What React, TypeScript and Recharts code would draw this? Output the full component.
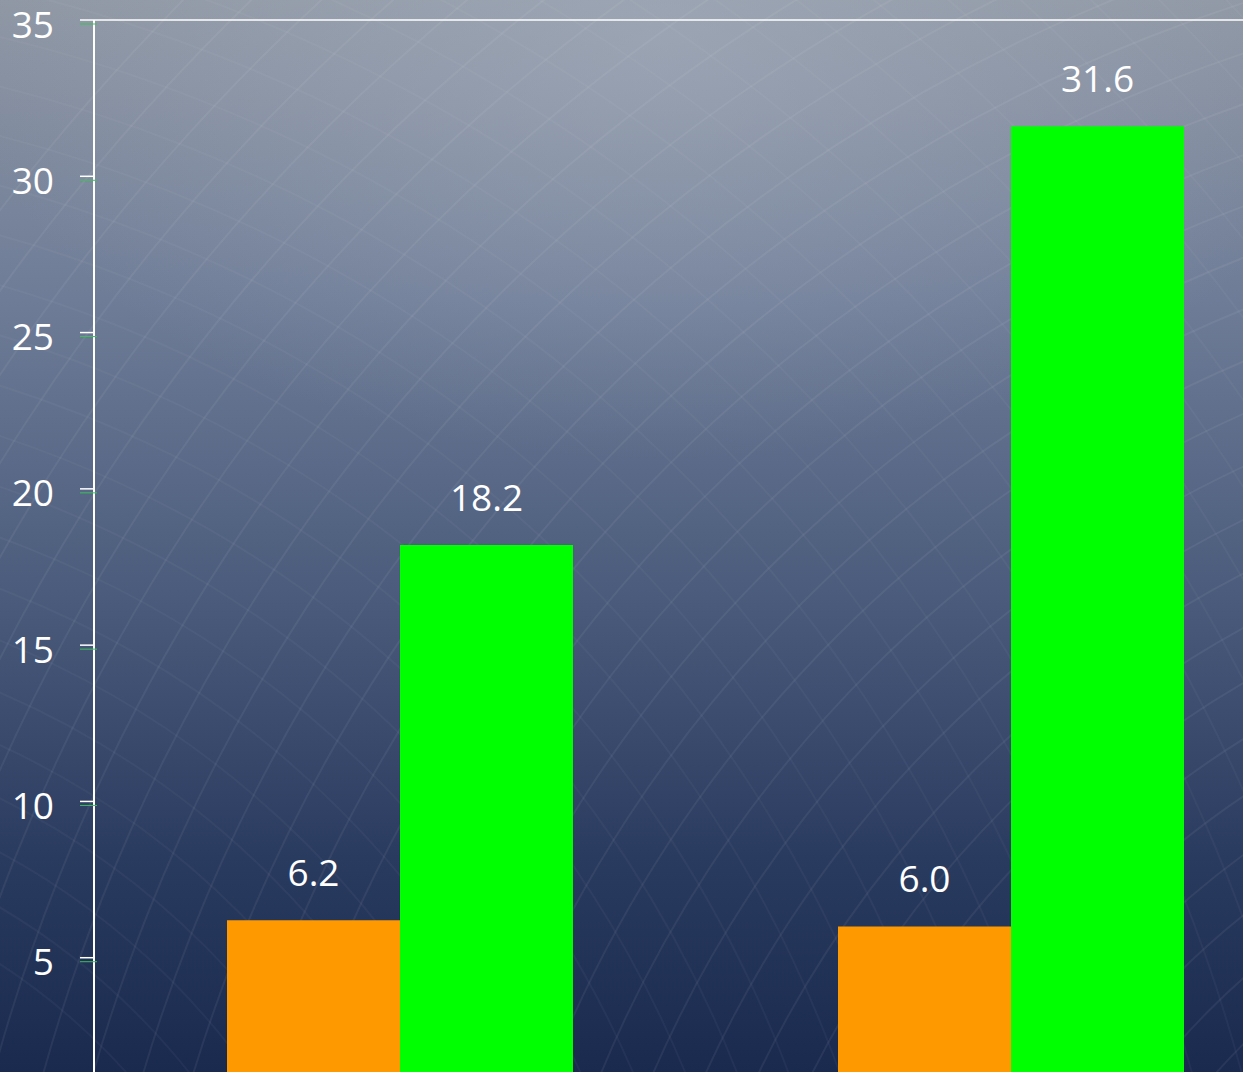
import { BarChart, Bar, XAxis, YAxis, LabelList, ReferenceLine } from 'recharts';

// Two groups, orange vs green series (x labels sit below the visible crop)
const categories = ['Group 1', 'Group 2'];
const orangeValues = [6.2, 6.0];
const greenValues = [18.2, 31.6];
const yTicks = [5, 10, 15, 20, 25, 30, 35];

const chartData = categories.map((name, i) => ({
  name,
  orange: orangeValues[i],
  green: greenValues[i],
}));

const FONT = '"Open Sans", "Liberation Sans", sans-serif';

// faint arc texture of the slide background
const arcRadii = Array.from({ length: 34 }, (_, i) => 620 + i * 48);

function Backdrop() {
  return (
    <svg width={1243} height={1072} style={{ position: 'absolute', left: 0, top: 0 }}>
      {arcRadii.map((r) => (
        <circle key={'a' + r} cx={1750} cy={1550} r={r} fill="none" stroke="rgba(255,255,255,0.06)" strokeWidth={2} />
      ))}
      {arcRadii.map((r) => (
        <circle key={'b' + r} cx={-350} cy={1500} r={r + 20} fill="none" stroke="rgba(255,255,255,0.035)" strokeWidth={2} />
      ))}
    </svg>
  );
}

function YTick(props: any) {
  const { x, y, payload } = props;
  return (
    <g>
      <line x1={x - 14} x2={x} y1={y} y2={y} stroke="#ffffff" strokeWidth={1.5} />
      <line x1={x - 14} x2={x + 3} y1={y + 4} y2={y + 4} stroke="#3fbf5a" strokeWidth={1} />
      <text
        x={x - 40}
        y={y + 3}
        textAnchor="end"
        dominantBaseline="central"
        fill="#ffffff"
        fontSize={37}
        fontFamily={FONT}
      >
        {payload.value}
      </text>
    </g>
  );
}

export default function App() {
  return (
    <div
      style={{
        position: 'absolute',
        left: 0,
        top: 0,
        width: 1243,
        height: 1072,
        overflow: 'hidden',
        background:
          'radial-gradient(ellipse 700px 420px at 660px 40px, rgba(170,180,195,0.5), rgba(170,180,195,0) 100%), linear-gradient(to bottom, #8f97a4 0%, #6e7c97 28%, #4b5c7c 55%, #2a3b60 80%, #1a2a4f 100%)',
      }}
    >
      <Backdrop />
      <div style={{ position: 'absolute', left: 0, top: 0 }}>
        <BarChart
          width={1316}
          height={1160}
          data={chartData}
          margin={{ top: 20, right: 0, left: 0, bottom: 46 }}
          barCategoryGap={133}
          barGap={0}
        >
          <XAxis dataKey="name" hide />
          <YAxis
            width={94}
            domain={[0, 35]}
            ticks={yTicks}
            interval={0}
            axisLine={{ stroke: '#ffffff', strokeWidth: 2 }}
            tickLine={false}
            tickSize={0}
            tickMargin={0}
            tick={<YTick />}
          />
          <ReferenceLine y={35} stroke="#ffffff" strokeWidth={1.5} />
          <Bar dataKey="orange" name="Series 1" fill="#ff9900" isAnimationActive={false}>
            <LabelList
              dataKey="orange"
              position="top"
              offset={34}
              fill="#ffffff"
              fontSize={37}
              fontFamily={FONT}
              formatter={(v: any) => Number(v).toFixed(1)}
            />
          </Bar>
          <Bar dataKey="green" name="Series 2" fill="#00ff00" isAnimationActive={false}>
            <LabelList
              dataKey="green"
              position="top"
              offset={34}
              fill="#ffffff"
              fontSize={37}
              fontFamily={FONT}
              formatter={(v: any) => Number(v).toFixed(1)}
            />
          </Bar>
        </BarChart>
      </div>
    </div>
  );
}
